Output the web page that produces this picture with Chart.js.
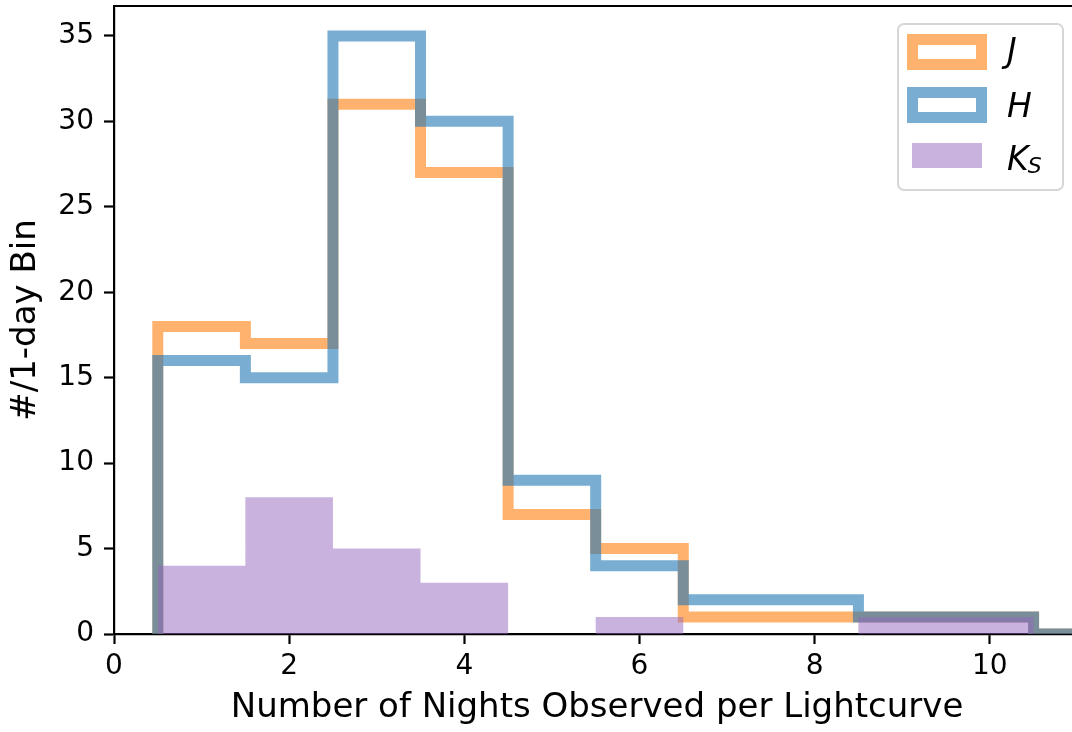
<!DOCTYPE html>
<html>
<head>
<meta charset="utf-8">
<script src="https://cdn.jsdelivr.net/npm/chart.js@4.4.1/dist/chart.umd.min.js"></script>
<style>
  html, body { margin: 0; padding: 0; background: #fff; overflow: hidden; width: 1072px; height: 732px; }
  canvas { display: block; }
</style>
</head>
<body>
<canvas id="histChart" width="1090" height="732"></canvas>
<script>
// 1-day bins, counts per band
const BIN_EDGES = [0.5, 1.5, 2.5, 3.5, 4.5, 5.5, 6.5, 7.5, 8.5, 9.5, 10.5, 11.5];
const J_COUNTS  = [18, 17, 31, 27, 7, 5, 1, 1, 1, 1, 0];
const H_COUNTS  = [16, 15, 35, 30, 9, 4, 2, 2, 1, 1, 0];
const KS_COUNTS = [4, 8, 5, 3, 0, 1, 0, 0, 1, 1, 0];

const X_TICKS = [0, 2, 4, 6, 8, 10];
const Y_TICKS = [0, 5, 10, 15, 20, 25, 30, 35];

const FONT = 'DejaVu Sans';

// outline of a step histogram (like histtype='step')
function stepPoints(counts, closeLeft) {
    const pts = [];
    if (closeLeft) pts.push({ x: BIN_EDGES[0], y: 0 });
    counts.forEach((c, i) => pts.push({ x: BIN_EDGES[i], y: c }));
    pts.push({ x: BIN_EDGES[counts.length], y: 0 });
    return pts;
}

// top + right spines
const framePlugin = {
    id: 'frame',
    afterDatasetsDraw(chart) {
        const { ctx, chartArea: a } = chart;
        ctx.save();
        ctx.strokeStyle = '#000';
        ctx.lineWidth = 2.2;
        ctx.beginPath();
        ctx.moveTo(a.left - 1, a.top);
        ctx.lineTo(a.right, a.top);
        ctx.lineTo(a.right, a.bottom);
        ctx.stroke();
        ctx.restore();
    }
};

// legend drawn inside the axes, upper right
const legendPlugin = {
    id: 'bandLegend',
    afterDraw(chart) {
        const ctx = chart.ctx;
        const ds = chart.data.datasets;
        ctx.save();
        ctx.beginPath();
        ctx.roundRect(898, 24, 165, 166, 6);
        ctx.fillStyle = 'rgba(255,255,255,0.8)';
        ctx.fill();
        ctx.strokeStyle = '#d6d6d6';
        ctx.lineWidth = 2;
        ctx.stroke();

        // J and H: outlined boxes
        ctx.lineWidth = 11;
        ctx.lineJoin = 'miter';
        ctx.strokeStyle = ds[0].borderColor;
        ctx.strokeRect(912.5, 39.5, 69, 25);
        ctx.strokeStyle = ds[1].borderColor;
        ctx.strokeRect(912.5, 92.5, 69, 25);
        // Ks: filled box
        ctx.fillStyle = ds[2].backgroundColor;
        ctx.fillRect(912, 143, 70, 25);

        ctx.fillStyle = '#000';
        ctx.textBaseline = 'alphabetic';
        ctx.textAlign = 'left';
        ctx.font = `oblique 33px "${FONT}"`;
        ctx.fillText('J', 1007, 62);
        ctx.fillText('H', 1007, 117);
        ctx.fillText('K', 1007, 170);
        const kw = ctx.measureText('K').width;
        ctx.font = `oblique 22px "${FONT}"`;
        ctx.fillText('S', 1007 + kw - 1, 173);
        ctx.restore();
    }
};

function fixedScale(width, height, ticks) {
    return {
        afterBuildTicks: s => { s.ticks = ticks.map(v => ({ value: v })); },
        afterFit: s => {
            if (width !== null) s.width = width;
            if (height !== null) s.height = height;
            s.paddingTop = 0; s.paddingBottom = 0;
            s.paddingLeft = 0; s.paddingRight = 0;
        }
    };
}

const lineBase = {
    stepped: 'before',
    pointRadius: 0,
    borderWidth: 11,
    borderJoinStyle: 'miter',
    borderCapStyle: 'butt',
    fill: false,
    clip: 0
};

const ctx = document.getElementById('histChart').getContext('2d');
new Chart(ctx, {
    type: 'line',
    data: {
        datasets: [
            { ...lineBase, label: 'J', data: stepPoints(J_COUNTS, true),
              borderColor: 'rgba(255,127,14,0.6)', order: 2 },
            { ...lineBase, label: 'H', data: stepPoints(H_COUNTS, true),
              borderColor: 'rgba(31,119,180,0.6)', order: 1 },
            { label: 'Ks', data: stepPoints(KS_COUNTS, false),
              stepped: 'before', pointRadius: 0, borderWidth: 0,
              borderColor: 'transparent', backgroundColor: 'rgba(148,103,189,0.5)',
              fill: 'origin', clip: 0, order: 0 }
        ]
    },
    options: {
        responsive: false,
        animation: false,
        layout: { padding: { top: 6, right: 10, left: 0, bottom: 0 } },
        plugins: {
            legend: { display: false },
            tooltip: { enabled: false }
        },
        scales: {
            x: {
                type: 'linear',
                min: 0,
                max: 11.03,
                ...fixedScale(null, 98, X_TICKS),
                grid: { drawOnChartArea: false, drawTicks: true, tickLength: 10, tickWidth: 2.2, tickColor: '#000' },
                border: { display: true, color: '#000', width: 2.2 },
                ticks: { color: '#000', font: { family: FONT, size: 28 }, padding: 6, maxRotation: 0,
                         callback: v => String(v) },
                title: { display: true, text: 'Number of Nights Observed per Lightcurve', color: '#000',
                         font: { family: FONT, size: 34, lineHeight: 1.2 }, padding: { top: 0, bottom: 3 } }
            },
            y: {
                type: 'linear',
                min: 0,
                max: 36.75,
                ...fixedScale(114, null, Y_TICKS),
                grid: { drawOnChartArea: false, drawTicks: true, tickLength: 10, tickWidth: 2.2, tickColor: '#000' },
                border: { display: true, color: '#000', width: 2.2 },
                ticks: { color: '#000', font: { family: FONT, size: 28 }, padding: 10,
                         callback: v => String(v) },
                title: { display: true, text: '#/1-day Bin', color: '#000',
                         font: { family: FONT, size: 34, lineHeight: 1.2 }, padding: { top: 6, bottom: 0 } }
            }
        }
    },
    plugins: [framePlugin, legendPlugin]
});
</script>
</body>
</html>
